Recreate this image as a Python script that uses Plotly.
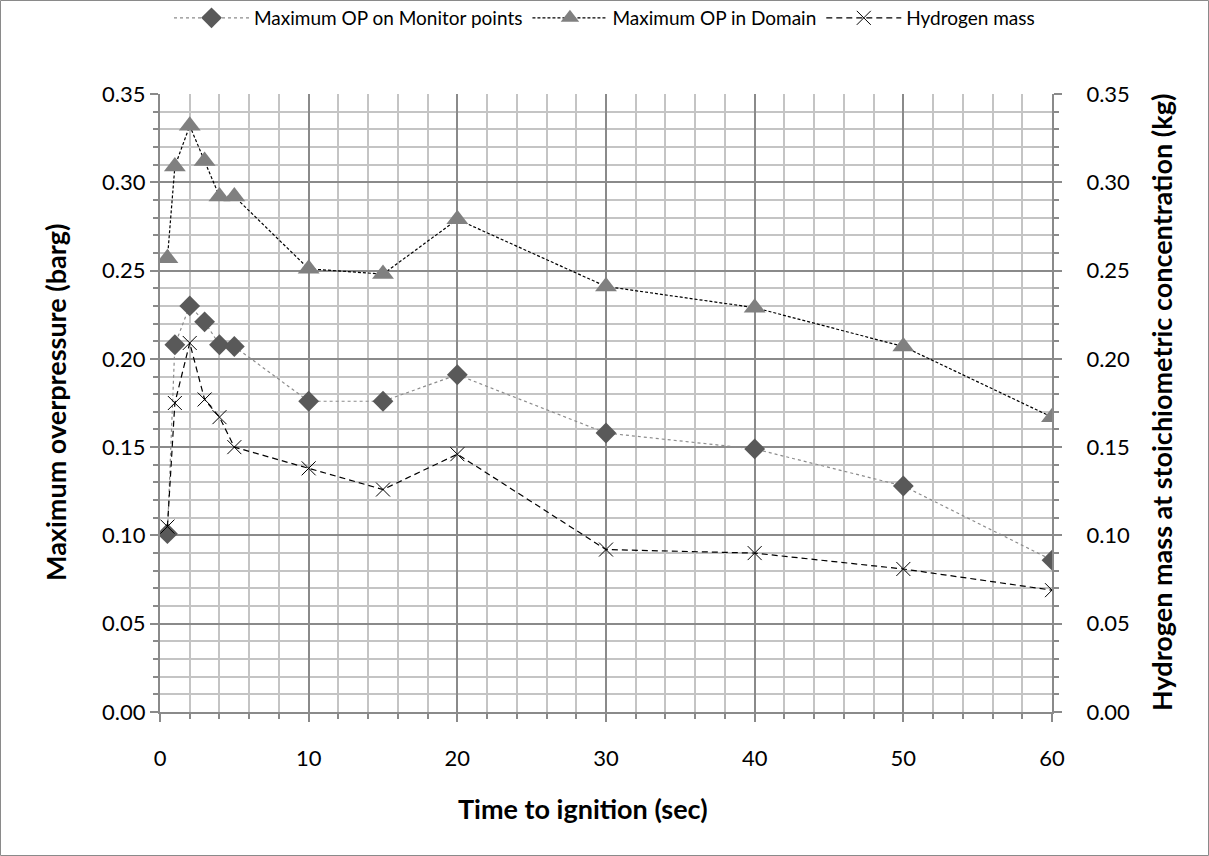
import plotly.graph_objects as go

# ---- data ----
time_s = [0.5, 1, 2, 3, 4, 5, 10, 15, 20, 30, 40, 50, 60]
op_monitor = [0.101, 0.208, 0.230, 0.221, 0.208, 0.207, 0.176, 0.176, 0.191, 0.158, 0.149, 0.128, 0.086]
op_domain = [0.257, 0.309, 0.332, 0.312, 0.292, 0.292, 0.251, 0.248, 0.279, 0.241, 0.229, 0.207, 0.167]
h2_mass = [0.105, 0.175, 0.209, 0.177, 0.167, 0.150, 0.138, 0.126, 0.146, 0.092, 0.090, 0.081, 0.069]

series_names = ["Maximum OP on Monitor points", "Maximum OP in Domain", "Hydrogen mass"]
x_title = "Time to ignition (sec)"
y_title = "Maximum overpressure (barg)"
y2_title = "Hydrogen mass at stoichiometric concentration (kg)"

W, H = 1209, 856
ML, MR, MT, MB = 160, 157, 94, 144
PW, PH = W - ML - MR, H - MT - MB

FONT = "Lato, 'Open Sans', sans-serif"
MAJ = "#8a8a8a"
MIN = "#c4c4c4"

fig = go.Figure()

fig.add_trace(go.Scatter(
    x=time_s, y=op_monitor, name=series_names[0], mode="lines+markers",
    line=dict(color="#8c8c8c", width=1.2, dash="dot"),
    marker=dict(symbol="diamond", size=16, color="#595959", line=dict(width=0)),
))
fig.add_trace(go.Scatter(
    x=time_s, y=op_domain, name=series_names[1], mode="lines+markers",
    line=dict(color="#000000", width=1.2, dash="3px,2px"),
    marker=dict(symbol="triangle-up", size=19, color="#808080", line=dict(width=0)),
))
fig.add_trace(go.Scatter(
    x=time_s, y=h2_mass, name=series_names[2], mode="lines+markers", yaxis="y2",
    line=dict(color="#000000", width=1.2, dash="6px,4px"),
    marker=dict(symbol="x-thin-open", size=14, color="#000000", line=dict(width=1, color="#000000")),
))

axis_common = dict(
    showline=True, linecolor=MAJ, linewidth=2,
    ticks="outside", tickcolor=MAJ, ticklen=8, tickwidth=1.5,
    tickfont=dict(family=FONT, size=22, color="#000000"),
    zeroline=False,
)

fig.update_layout(
    width=W, height=H,
    margin=dict(l=ML, r=MR, t=MT, b=MB, autoexpand=False),
    paper_bgcolor="white", plot_bgcolor="white",
    font=dict(family=FONT, color="#000000"),
    xaxis=dict(
        range=[0, 60], dtick=10, tick0=0, ticklabelstandoff=18,
        showgrid=True, gridcolor=MAJ, gridwidth=1.5,
        minor=dict(dtick=2, showgrid=True, gridcolor=MIN, gridwidth=2,
                   ticks="outside", ticklen=5, tickcolor=MAJ, tickwidth=1.5),
        **axis_common,
    ),
    yaxis=dict(
        range=[0, 0.35], dtick=0.05, tick0=0, tickformat=".2f", ticklabelstandoff=0,
        showgrid=True, gridcolor=MAJ, gridwidth=1.5,
        minor=dict(dtick=0.01, showgrid=True, gridcolor=MIN, gridwidth=2,
                   ticks="outside", ticklen=5, tickcolor=MAJ, tickwidth=1.5),
        **axis_common,
    ),
    yaxis2=dict(
        range=[0, 0.35], dtick=0.05, tick0=0, tickformat=".2f", ticklabelstandoff=20,
        overlaying="y", side="right", showgrid=False,
        minor=dict(dtick=0.01, ticks="outside", ticklen=5, tickcolor=MAJ, tickwidth=1.5),
        **axis_common,
    ),
    legend=dict(
        orientation="h", xref="container", yref="container",
        x=0.5, xanchor="center", y=1 - 18 / H, yanchor="middle",
        font=dict(family=FONT, size=19, color="#000000"),
        itemwidth=75, bgcolor="rgba(0,0,0,0)",
    ),
    showlegend=True,
)

TFS = 27
fig.add_annotation(text=f"<b>{x_title}</b>", xref="paper", yref="paper",
                   x=(583 - ML) / PW, y=(H - MB - 808) / PH, showarrow=False,
                   font=dict(family=FONT, size=TFS, color="#000000"),
                   xanchor="center", yanchor="middle")
fig.add_annotation(text=f"<b>{y_title}</b>", xref="paper", yref="paper",
                   x=(55 - ML) / PW, y=(H - MB - 403) / PH, showarrow=False, textangle=-90,
                   font=dict(family=FONT, size=TFS, color="#000000"),
                   xanchor="center", yanchor="middle")
fig.add_annotation(text=f"<b>{y2_title}</b>", xref="paper", yref="paper",
                   x=(1161 - ML) / PW, y=(H - MB - 403) / PH, showarrow=False, textangle=-90,
                   font=dict(family=FONT, size=TFS, color="#000000"),
                   xanchor="center", yanchor="middle")

# outer frame
fig.add_shape(type="rect", xref="paper", yref="paper",
              x0=(0.5 - ML) / PW, x1=(W - 0.5 - ML) / PW,
              y0=(H - MB - (H - 0.5)) / PH, y1=(H - MB - 0.5) / PH,
              line=dict(color="#8a8a8a", width=1), fillcolor="rgba(0,0,0,0)", layer="below")

fig.write_html("out.html")
